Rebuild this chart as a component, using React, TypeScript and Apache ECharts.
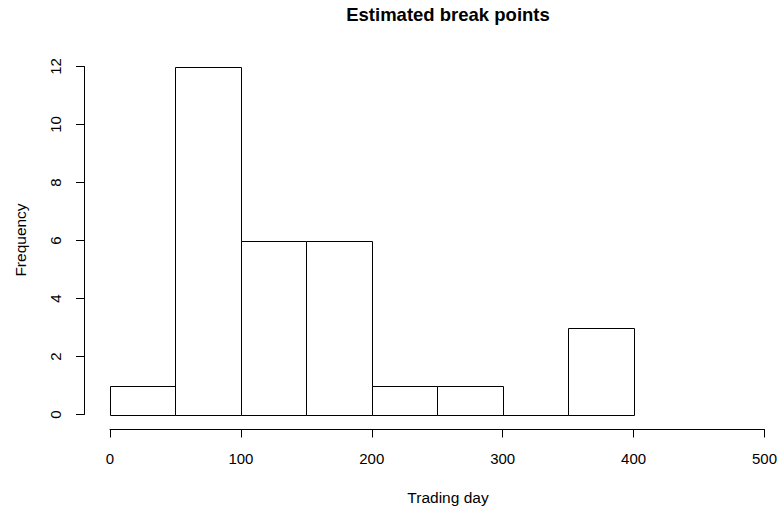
import React, { useEffect, useRef } from "react";
import * as echarts from "echarts";

const breaks = [0, 50, 100, 150, 200, 250, 300, 350, 400];
const counts = [1, 12, 6, 6, 1, 1, 0, 3];
const xTicks = [0, 100, 200, 300, 400, 500];
const yTicks = [0, 2, 4, 6, 8, 10, 12];
const titleText = "Estimated break points";
const xLabel = "Trading day";
const yLabel = "Frequency";

const FONT = "'Liberation Sans', Arial, Helvetica, sans-serif";

export default function App() {
  const ref = useRef<HTMLDivElement>(null);
  useEffect(() => {
    if (!ref.current) return;
    const chart = echarts.init(ref.current, null, { renderer: "svg" });
    const data = counts.map((c, i) => [breaks[i], breaks[i + 1], c]);
    chart.setOption({
      animation: false,
      backgroundColor: "#ffffff",
      textStyle: { fontFamily: FONT },
      grid: { left: 110, right: 15, top: 66.5, bottom: 93.5 },
      xAxis: {
        type: "value",
        min: xTicks[0],
        max: xTicks[xTicks.length - 1],
        interval: 100,
        offset: 15,
        axisLine: { show: true, onZero: false, lineStyle: { color: "#000", width: 1 } },
        axisTick: { show: true, length: 8, lineStyle: { color: "#000" } },
        axisLabel: { fontSize: 15, color: "#000", margin: 21, fontFamily: FONT },
        splitLine: { show: false },
      },
      yAxis: {
        type: "value",
        min: yTicks[0],
        max: yTicks[yTicks.length - 1],
        interval: 2,
        offset: 26,
        axisLine: { show: true, onZero: false, lineStyle: { color: "#000", width: 1 } },
        axisTick: { show: true, length: 8, lineStyle: { color: "#000" } },
        axisLabel: {
          fontSize: 15,
          color: "#000",
          margin: 21,
          rotate: 90,
          fontFamily: FONT,
        },
        splitLine: { show: false },
      },
      series: [
        {
          type: "custom",
          clip: false,
          data,
          encode: { x: [0, 1], y: 2 },
          renderItem: (params: any, api: any) => {
            const x0 = api.value(0);
            const x1 = api.value(1);
            const c = api.value(2);
            const p0 = api.coord([x0, c]);
            const p1 = api.coord([x1, 0]);
            return {
              type: "rect",
              shape: {
                x: Math.round(p0[0]) + 0.5,
                y: Math.round(p0[1]) + 0.5,
                width: Math.round(p1[0]) - Math.round(p0[0]),
                height: Math.round(p1[1]) - Math.round(p0[1]),
              },
              style: { fill: "#ffffff", stroke: "#000000", lineWidth: 1 },
            };
          },
        },
      ],
      graphic: [
        {
          type: "text",
          x: 448,
          y: 14,
          style: {
            text: titleText,
            align: "center",
            verticalAlign: "middle",
            fontSize: 18.5,
            fontWeight: "bold",
            fontFamily: FONT,
            fill: "#000",
          },
        },
        {
          type: "text",
          x: 448,
          y: 497,
          style: {
            text: xLabel,
            align: "center",
            verticalAlign: "middle",
            fontSize: 15.5,
            fontFamily: FONT,
            fill: "#000",
          },
        },
        {
          type: "text",
          x: 20,
          y: 240,
          rotation: Math.PI / 2,
          style: {
            text: yLabel,
            align: "center",
            verticalAlign: "middle",
            fontSize: 15.5,
            fontFamily: FONT,
            fill: "#000",
          },
        },
      ],
    });
    return () => chart.dispose();
  }, []);
  return (
    <div
      ref={ref}
      style={{ position: "fixed", left: 0, top: 0, width: 780, height: 508 }}
    />
  );
}
